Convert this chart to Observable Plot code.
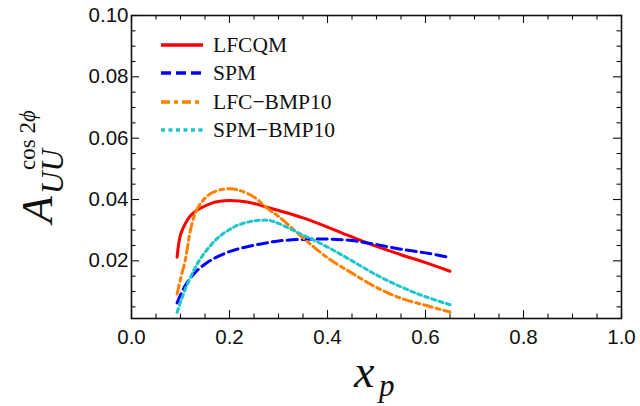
<!DOCTYPE html>
<html><head><meta charset="utf-8">
<script src="https://cdn.jsdelivr.net/npm/d3@7"></script>
<script src="https://cdn.jsdelivr.net/npm/@observablehq/plot@0.6"></script>
<style>
html,body{margin:0;padding:0;background:#fff;}
#chart{width:640px;height:406px;}
</style>
</head><body><div id="chart"></div>
<script>
// x_p grid
const xp       = [0.093, 0.10, 0.11, 0.12, 0.13, 0.14, 0.16, 0.18, 0.20, 0.22, 0.25, 0.28, 0.30, 0.35, 0.40, 0.45, 0.50, 0.55, 0.60, 0.65];
const lfcqm    = [0.0212, 0.0285, 0.0322, 0.0346, 0.0361, 0.0371, 0.0386, 0.0394, 0.0397, 0.0395, 0.0387, 0.0373, 0.0364, 0.0340, 0.0310, 0.0278, 0.0247, 0.0220, 0.0194, 0.0166];
const spm      = [0.0063, 0.0088, 0.0120, 0.0143, 0.0162, 0.0177, 0.0200, 0.0217, 0.0230, 0.0240, 0.0251, 0.0260, 0.0265, 0.0270, 0.0271, 0.0266, 0.0253, 0.0238, 0.0226, 0.0211];
const lfcBmp10 = [0.0092, 0.0140, 0.0205, 0.0298, 0.0355, 0.0385, 0.0418, 0.0431, 0.0435, 0.0430, 0.0408, 0.0368, 0.0345, 0.0275, 0.0210, 0.0160, 0.0113, 0.0078, 0.0055, 0.0033];
const spmBmp10 = [0.0032, 0.0065, 0.0108, 0.0145, 0.0178, 0.0205, 0.0248, 0.0280, 0.0302, 0.0318, 0.0330, 0.0332, 0.0322, 0.0284, 0.0245, 0.0200, 0.0154, 0.0115, 0.0083, 0.0057];

const seriesNames = ["LFCQM", "SPM", "LFC\u2212BMP10", "SPM\u2212BMP10"];
const seriesValues = [lfcqm, spm, lfcBmp10, spmBmp10];
const seriesColors = ["#ff0000", "#0000ff", "#ff8000", "#1ec6cc"];
const seriesDash = [null, "10,5", "9,4,4,4", "4,3.5"];

const xTicks = [0.0, 0.2, 0.4, 0.6, 0.8, 1.0];
const xMinor = [0.05, 0.1, 0.15, 0.25, 0.3, 0.35, 0.45, 0.5, 0.55, 0.65, 0.7, 0.75, 0.85, 0.9, 0.95];
const yTicks = [0.02, 0.04, 0.06, 0.08, 0.10];
const yMinor = [0.005, 0.01, 0.015, 0.025, 0.03, 0.035, 0.045, 0.05, 0.055, 0.065, 0.07, 0.075, 0.085, 0.09, 0.095];

const W = 640, H = 406;
const M = {top: 15, right: 19, bottom: 88, left: 131};
const innerW = W - M.left - M.right;
const innerH = H - M.top - M.bottom;
const majorLen = 8, minorLen = 4.5;

const rows = [];
seriesNames.forEach((s, k) => xp.forEach((x, i) => rows.push({x, y: seriesValues[k][i], s})));

const tickStyle = {stroke: "#111", strokeWidth: 1.1};

const marks = [];
// inward ticks on all four sides
[[xTicks, majorLen], [xMinor, minorLen]].forEach(([t, L]) => {
  marks.push(Plot.tickX(t, {x: d => d, insetTop: innerH - L, ...tickStyle}));
  marks.push(Plot.tickX(t, {x: d => d, insetBottom: innerH - L, ...tickStyle}));
});
[[yTicks, majorLen], [yMinor, minorLen]].forEach(([t, L]) => {
  marks.push(Plot.tickY(t, {y: d => d, insetRight: innerW - L, ...tickStyle}));
  marks.push(Plot.tickY(t, {y: d => d, insetLeft: innerW - L, ...tickStyle}));
});
seriesNames.forEach((s, k) => {
  marks.push(Plot.line(rows.filter(r => r.s === s), {
    x: "x", y: "y", stroke: seriesColors[k], strokeWidth: 3,
    strokeDasharray: seriesDash[k], curve: "catmull-rom"
  }));
});
const tickFont = {fontSize: 20.5, fontFamily: "'Liberation Sans', Arial, sans-serif", fill: "#111"};
marks.push(Plot.axisX({ticks: xTicks, tickSize: 0, tickPadding: 11, tickFormat: d3.format(".1f"), label: null, ...tickFont}));
marks.push(Plot.axisY({ticks: yTicks, tickSize: 0, tickPadding: 3, tickFormat: d3.format(".2f"), label: null, ...tickFont}));
marks.push(Plot.frame({stroke: "#111", strokeWidth: 1.6}));

const chart = Plot.plot({
  width: W, height: H,
  marginTop: M.top, marginRight: M.right, marginBottom: M.bottom, marginLeft: M.left,
  x: {domain: [0, 1], label: null},
  y: {domain: [0.0012, 0.1], label: null},
  style: {fontFamily: "'Liberation Sans', Arial, sans-serif", fontSize: "19px", background: "#fff", color: "#111"},
  marks
});
document.getElementById("chart").append(chart);

const svg = d3.select(chart);
const serif = "'Liberation Serif', 'Times New Roman', serif";
// legend (inside the frame)
const leg = svg.append("g").attr("text-anchor", "start");
const legY = [45, 73, 102, 130];
seriesNames.forEach((s, k) => {
  leg.append("line").attr("x1", 161).attr("x2", 203).attr("y1", legY[k]).attr("y2", legY[k])
    .attr("stroke", seriesColors[k]).attr("stroke-width", 3.6)
    .attr("stroke-dasharray", seriesDash[k] || null);
  leg.append("text").attr("x", 213).attr("y", legY[k] + 7)
    .attr("font-family", serif).attr("font-size", 21.5)
    .attr("fill", "#111").text(s);
});

// y-axis title  A_{UU}^{cos 2φ}
const yt = svg.append("g").attr("transform", "rotate(-90)").attr("fill", "#111")
  .attr("font-family", serif).attr("text-anchor", "start");
yt.append("text").attr("x", -223).attr("y", 52).attr("font-size", 44).attr("font-style", "italic").text("A");
yt.append("text").attr("x", -194).attr("y", 63).attr("font-size", 31).attr("font-style", "italic").text("UU");
const sup = yt.append("text").attr("x", -170).attr("y", 35).attr("font-size", 23);
sup.append("tspan").text("cos 2");
sup.append("tspan").attr("font-style", "italic").text("\u03d5");

// x-axis title  x_p
const xt = svg.append("g").attr("fill", "#111").attr("font-family", serif)
  .attr("font-style", "italic").attr("text-anchor", "start");
xt.append("text").attr("x", 354).attr("y", 387).attr("font-size", 46).text("x");
xt.append("text").attr("x", 379).attr("y", 396).attr("font-size", 31).text("p");
</script>
</body></html>
